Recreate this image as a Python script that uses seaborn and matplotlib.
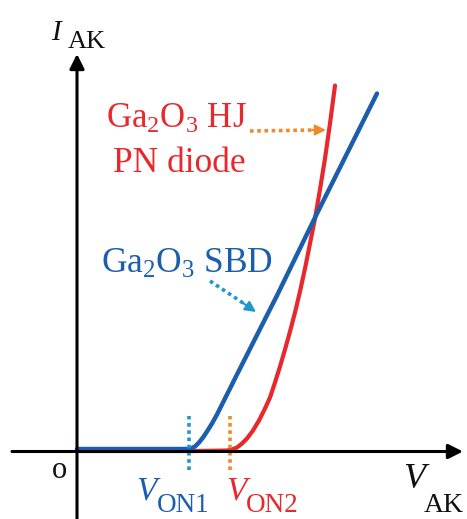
import matplotlib
matplotlib.use("Agg")
import matplotlib.pyplot as plt
import seaborn as sns
import pandas as pd

# ---- data (arbitrary units; origin at axis crossing) ----
v_sbd = [0, 40, 80, 110, 114, 118, 122, 126, 130, 135, 140, 150, 160,
         200, 240, 300]
i_sbd = [2.5, 2.5, 2.5, 2.5, 3, 5, 9, 14, 20, 28, 37, 57, 77,
         156, 238, 358]

v_hj = [0, 60, 120, 150, 155, 160, 165, 170, 176, 182, 188, 193, 198, 203,
        208, 213, 218, 223, 228, 233, 238, 243, 248, 253, 258]
i_hj = [0.5, 0.5, 0.5, 1, 2, 4, 8, 13, 21, 31, 43, 54, 69, 85,
        102, 120, 139, 160, 183, 208, 233, 262, 293, 328, 366]

v_on = [112, 153]
label_on = ["ON1", "ON2"]

df_sbd = pd.DataFrame({"V": v_sbd, "I": i_sbd})
df_hj = pd.DataFrame({"V": v_hj, "I": i_hj})

RED = "#E8282C"
BLUE = "#1B5EAD"
ORANGE = "#F0882E"
LBLUE = "#1E96D2"
SERIF = "Liberation Serif"

sns.set_theme(style="white")
plt.rcParams["font.family"] = [SERIF, "DejaVu Serif"]
plt.rcParams["mathtext.fontset"] = "custom"
plt.rcParams["mathtext.rm"] = SERIF
plt.rcParams["mathtext.it"] = SERIF + ":italic"

fig = plt.figure(figsize=(4.67, 5.19), dpi=100)
ax = fig.add_axes([0, 0, 1, 1])
OX, OY = 77, 451.5
def X(px):
    return px - OX
def Y(py):
    return OY - py
ax.set_xlim(X(0), X(467))
ax.set_ylim(Y(519), Y(0))
ax.axis("off")

# axes with arrows
ax.annotate("", xy=(X(463), 0), xytext=(X(12), 0),
            arrowprops=dict(arrowstyle="-|>", color="black", lw=2.2,
                            mutation_scale=22, shrinkA=0, shrinkB=0))
ax.annotate("", xy=(0, Y(54)), xytext=(0, Y(519)),
            arrowprops=dict(arrowstyle="-|>", color="black", lw=2.2,
                            mutation_scale=22, shrinkA=0, shrinkB=0))

# curves
sns.lineplot(data=df_hj, x="V", y="I", ax=ax, color=RED, lw=3.0, sort=False)
sns.lineplot(data=df_sbd, x="V", y="I", ax=ax, color=BLUE, lw=3.2, sort=False)

# turn-on markers
for v, c in zip(v_on, [LBLUE, ORANGE]):
    ax.plot([v, v], [Y(470), Y(416)], color=c, lw=2.6, ls=(0, (1, 1)))

# on-voltage labels
ax.text(X(136), Y(500), "V", color=BLUE, fontsize=24, style="italic")
ax.text(X(157), Y(512), label_on[0], color=BLUE, fontsize=19.5)
ax.text(X(226), Y(500), "V", color=RED, fontsize=24, style="italic")
ax.text(X(246), Y(512), label_on[1], color=RED, fontsize=19.5)

# axis labels
ax.text(X(51), Y(40), "I", fontsize=21, style="italic", color="#111111")
ax.text(X(68), Y(48), "AK", fontsize=19, color="#111111")
ax.text(X(403), Y(488), "V", fontsize=26, style="italic", color="#111111")
ax.text(X(424), Y(512), "AK", fontsize=20, color="#111111")
ax.text(X(52), Y(478), "o", fontsize=22, color="#111111")

# series annotations
ax.text(X(106), Y(128), r"Ga$_2$O$_3$ HJ", color=RED, fontsize=25)
ax.text(X(113), Y(172), "PN diode", color=RED, fontsize=25.5)
ax.text(X(101), Y(273), r"Ga$_2$O$_3$ SBD", color=BLUE, fontsize=25.5)

# dotted arrows
ax.plot([X(250), X(315)], [Y(131), Y(130)], color=ORANGE, lw=2.6, ls=(0, (1, 1)))
ax.annotate("", xy=(X(326), Y(130)), xytext=(X(312), Y(130)),
            arrowprops=dict(arrowstyle="-|>", color=ORANGE, lw=1.5,
                            mutation_scale=16, shrinkA=0, shrinkB=0))
ax.plot([X(210), X(246)], [Y(281), Y(305)], color=LBLUE, lw=2.6, ls=(0, (1, 1)))
ax.annotate("", xy=(X(256), Y(312)), xytext=(X(243), Y(303)),
            arrowprops=dict(arrowstyle="-|>", color=LBLUE, lw=1.5,
                            mutation_scale=16, shrinkA=0, shrinkB=0))

fig.savefig("out.png", dpi=100)
